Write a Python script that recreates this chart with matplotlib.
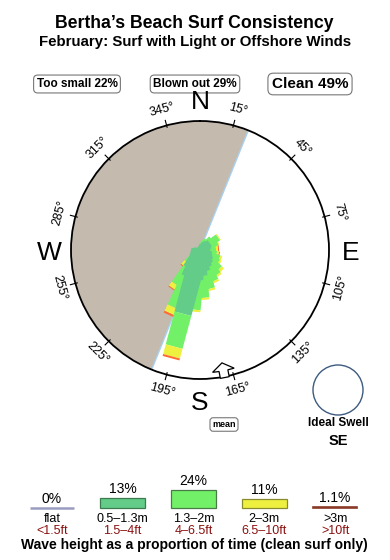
import numpy as np
import matplotlib
matplotlib.use("Agg")
import matplotlib.pyplot as plt
from matplotlib.patches import Ellipse

plt.rcParams['font.family'] = ['Liberation Sans', 'DejaVu Sans']

# headline numbers
spot = "Bertha\u2019s Beach"
month = "February"
too_small = 22
blown_out = 29
clean = 49
ideal_swell = "SE"
mean_dir = 169      # mean swell bearing
shore_dir = 22      # shoreline bearing, land lies west of it

# swell rose: bearing of each petal and length of each size band
rose_dirs = [25, 35, 45, 55, 65, 75, 85, 95, 105, 115, 125, 135, 145, 155,
             165, 175, 185, 195, 205, 215, 225]
rose_small = [6, 8, 10, 12, 11, 9, 9, 9, 10, 12, 13, 15, 17, 19,
              22, 26, 30, 66, 30, 22, 8]      # 0.5-1.3m
rose_mid = [4, 4, 6, 10, 8, 6, 7, 7, 7, 9, 9, 12, 13, 15,
            18, 22, 30, 34, 33, 20, 10]       # 1.3-2m
rose_big = [0, 0, 0, 1, 1, 1, 2, 1, 2, 2, 2, 3, 2, 2,
            2, 2, 2, 10, 7, 5, 5]             # 2-3m
rose_huge = [0, 0, 0, 0, 0, 0, 1, 0, 1, 0, 0, 0, 0, 0,
             0, 0, 0, 2, 2, 1, 1]             # >3m

# wave height legend
band_pct = [0, 13, 24, 11, 1.1]
band_m = ["flat", "0.5\u20131.3m", "1.3\u20132m", "2\u20133m", ">3m"]
band_ft = ["<1.5ft", "1.5\u20134ft", "4\u20136.5ft", "6.5\u201310ft", ">10ft"]
band_fill = ["#9a9cc0", "#62cc88", "#72f068", "#eef040", "#8a3a28"]
band_edge = ["#9a9cc0", "#3c7a50", "#4a7a48", "#8a8a30", "#8a3a28"]
rose_colors = ["#62cc88", "#72f068", "#eef040", "#ff6a30"]

LAND = "#c4baae"
W, H = 390, 560
cx, cy, R = 200, 250, 129
RMAX = 129.0

fig = plt.figure(figsize=(W / 100, H / 100), dpi=100)

# overlay in pixel coordinates for the text
ax = fig.add_axes([0, 0, 1, 1])
ax.set_xlim(0, W)
ax.set_ylim(H, 0)
ax.axis('off')

ax.text(194, 28, spot + " Surf Consistency", ha='center', va='baseline',
        fontsize=12.7, fontweight='bold')
ax.text(195, 46, month + ": Surf with Light or Offshore Winds", ha='center',
        va='baseline', fontsize=10.8, fontweight='bold')

box = dict(boxstyle='round,pad=0.25,rounding_size=0.35', fc='white',
           ec='#777777', lw=0.8)
ax.text(77, 87, f"Too small {too_small}%", ha='center', va='baseline',
        fontsize=8.5, fontweight='bold', bbox=box)
ax.text(195, 87, f"Blown out {blown_out}%", ha='center', va='baseline',
        fontsize=8.5, fontweight='bold', bbox=box)
ax.text(310, 88, f"Clean {clean}%", ha='center', va='baseline',
        fontsize=11, fontweight='bold', bbox=box)

ax.text(224, 427, "mean", ha='center', va='baseline', fontsize=6.5,
        fontweight='bold', bbox=box)

ax.add_patch(Ellipse((338, 390), 50, 50, fill=False, ec='#3d5a80', lw=1))
ax.text(338, 426, "Ideal Swell", ha='center', va='baseline', fontsize=8.5,
        fontweight='bold')
ax.text(338, 445, ideal_swell, ha='center', va='baseline', fontsize=10.5,
        fontweight='bold')

ax.text(194, 549, "Wave height as a proportion of time (clean surf only)",
        ha='center', va='baseline', fontsize=10, fontweight='bold')

# compass
pax = fig.add_axes([(cx - R) / W, 1 - (cy + R) / H, 2 * R / W, 2 * R / H],
                   projection='polar')
pax.set_theta_zero_location('N')
pax.set_theta_direction(-1)
pax.set_ylim(0, RMAX)
pax.grid(False)
pax.set_xticks([])
pax.set_yticks([])
pax.spines['polar'].set_linewidth(1.3)

th = np.radians(np.linspace(shore_dir + 180, shore_dir + 360, 120))
pax.fill(np.r_[th, 0], np.r_[np.full(th.size, RMAX), 0], color=LAND, lw=0,
         zorder=1)
pax.plot(np.radians([shore_dir, shore_dir, shore_dir + 180, shore_dir + 180]),
         [RMAX, 0, 0, RMAX], color='#a8d0f0', lw=1, zorder=1.5)


def strip(bearing, a0, a1, half):
    # straight strip along a bearing, from a0 to a1 out of the centre
    a = np.array([a0, a1, a1, a0])
    c = np.array([-half, -half, half, half])
    return np.radians(bearing + np.degrees(np.arctan2(c, a))), np.hypot(a, c)


bands = np.array([rose_small, rose_mid, rose_big, rose_huge], dtype=float)
totals = bands.sum(axis=0)
# short spokes first, the long ones end up on top
for k in np.argsort(totals, kind='stable'):
    half = (4.5 + 0.115 * totals[k]) / 2
    start = 0.0
    for j, col in enumerate(rose_colors):
        seg = bands[j, k]
        if seg <= 0:
            continue
        t, r = strip(rose_dirs[k], start, start + seg, half)
        pax.fill(t, r, color=col, lw=0, zorder=3)
        start += seg

for b in range(15, 360, 30):
    pax.plot(np.radians([b, b]), [RMAX * 0.985, RMAX * 1.04], color='black',
             lw=0.8, clip_on=False)
    rot = -b
    while rot <= -90:
        rot += 180
    pax.text(np.radians(b), RMAX * 1.125, f"{b}\u00b0", rotation=rot,
             rotation_mode='anchor', ha='center', va='center', fontsize=9)

for name, b in zip("NESW", [0, 90, 180, 270]):
    pax.text(np.radians(b), RMAX * 1.165, name, ha='center',
             va='center_baseline', fontsize=19)

# mean direction arrow, drawn in (along, across) pixels from the rim
along = np.array([1, -6, -6, -14, -6, -6, 1])
across = np.array([-4.5, -4.5, -11, 0, 11, 4.5, 4.5])
r = RMAX + along
pax.fill(np.radians(mean_dir + np.degrees(across / r)), r, fc='white',
         ec='black', lw=0.9, zorder=5, clip_on=False)

# wave height legend
lax = fig.add_axes([16.5 / W, 1 - 507.5 / H, 354 / W, 30 / H])
lax.set_xlim(-0.5, 4.5)
lax.set_ylim(0, 40)
lax.axis('off')
x = np.arange(len(band_pct))
lax.bar(x, band_pct, width=0.63, color=band_fill, edgecolor=band_edge,
        lw=[1.8, 0.9, 0.9, 0.9, 1.2], clip_on=False)
for i, p in enumerate(band_pct):
    lab = f"{p:g}%"
    lax.text(i, p + 6.5, lab, ha='center', va='baseline', fontsize=10)
    lax.text(i, -19.3, band_m[i], ha='center', va='baseline', fontsize=9,
             clip_on=False)
    lax.text(i, -34.7, band_ft[i], ha='center', va='baseline', fontsize=9,
             color='#8b1010', clip_on=False)

fig.savefig("out.png", dpi=100)
